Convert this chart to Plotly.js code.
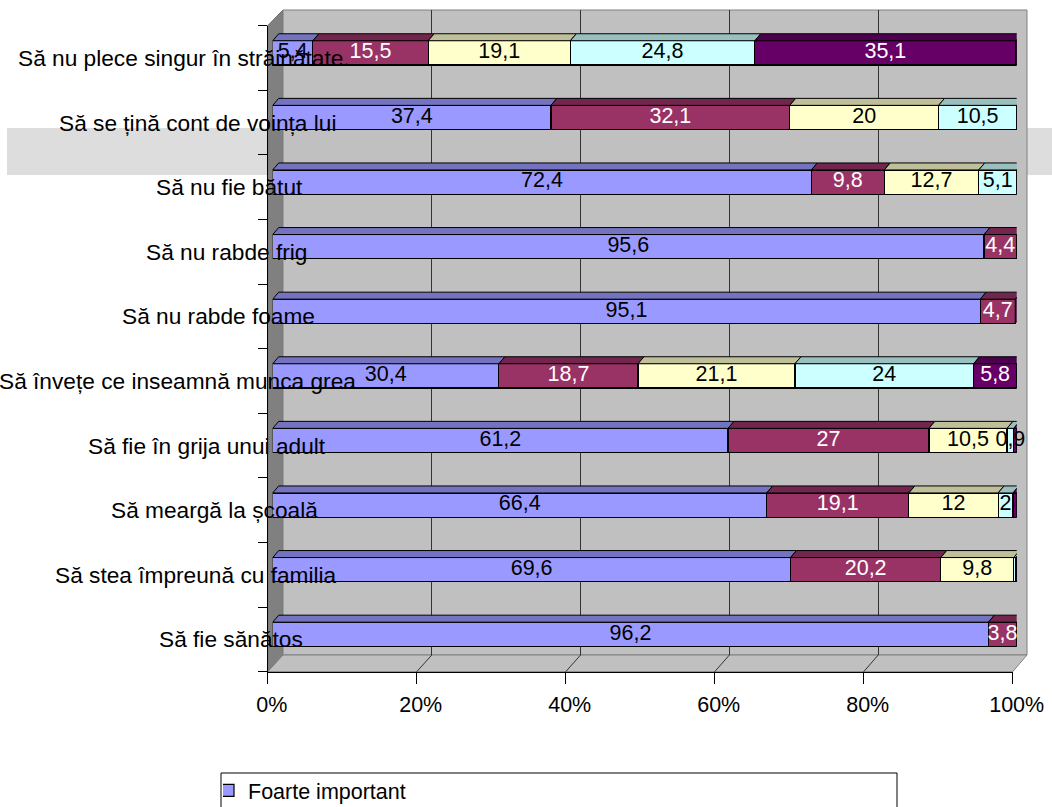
<!DOCTYPE html>
<html>
<head>
<meta charset="utf-8">
<script src="https://cdn.plot.ly/plotly-3.0.1.min.js"></script>
<style>
html,body{margin:0;padding:0;background:#ffffff;}
#chart{width:1052px;height:807px;}
</style>
</head>
<body>
<div id="chart"></div>
<script>
// ---------------- data ----------------
const categories = [
  "Să nu plece singur în străinătate.",
  "Să se țină cont de voința lui",
  "Să nu fie bătut",
  "Să nu rabde frig",
  "Să nu rabde foame",
  "Să învețe ce inseamnă munca grea",
  "Să fie în grija unui adult",
  "Să meargă la școală",
  "Să stea împreună cu familia",
  "Să fie sănătos"
];
const seriesNames = ["Foarte important", "Important", "Puțin important", "Deloc important", "Nu știu / Nu răspund"];
const foarteImportant = [5.4, 37.4, 72.4, 95.6, 95.1, 30.4, 61.2, 66.4, 69.6, 96.2];
const important       = [15.5, 32.1, 9.8, 4.4, 4.7, 18.7, 27, 19.1, 20.2, 3.8];
const putinImportant  = [19.1, 20, 12.7, 0, 0, 21.1, 10.5, 12, 9.8, 0];
const delocImportant  = [24.8, 10.5, 5.1, 0, 0, 24, 0.9, 2, 0.3, 0];
const nuStiu          = [35.1, 0, 0, 0, 0, 5.8, 0.4, 0.5, 0.1, 0];
const xTickValues = [0, 20, 40, 60, 80, 100];

// ---------------- styles / layout constants ----------------
const W = 1052, H = 807;
const FONT = 'Arial, "Liberation Sans", sans-serif';
const frontColors = ["#9999ff", "#993366", "#ffffcc", "#ccffff", "#660066"];
const topColors   = ["#7373bf", "#73264d", "#bfbf99", "#99bfbf", "#4d004d"];
const sideColor   = "#330033";
const labelColors = ["#000000", "#ffffff", "#000000", "#000000", "#ffffff"];
const FRONT = {x0: 267.7, x1: 1012.7, y0: 25.7, y1: 671.7};   // front plane (axes)
const BACK  = {x0: 283,   x1: 1027,   y0: 10,   y1: 655};     // back wall
const BARP  = {x0: 272.7, x1: 1016.7, y0: 20.6, y1: 666.6};   // bar front faces plane
const BARW = 0.376;
const DEPTH_X = 6, DEPTH_Y = 7;  // pixel depth of bar top faces
const MIN_LABEL = 0.8;
const CAT_FONT = 22.7;

const fx = px => px / W;
const fy = py => 1 - py / H;

const series = [foarteImportant, important, putinImportant, delocImportant, nuStiu];
const n = categories.length;
const idx = categories.map((_, i) => i);
const DX = DEPTH_X / ((BARP.x1 - BARP.x0) / 100);
const DY = DEPTH_Y / ((BARP.y1 - BARP.y0) / n);
const fmt = v => String(v).replace('.', ',');

const traces = [];
// empty trace to create the back-wall grid subplot
traces.push({type: 'scatter', x: [], y: [], xaxis: 'x', yaxis: 'y', showlegend: false, hoverinfo: 'skip'});
// empty trace for the front axes subplot
traces.push({type: 'scatter', x: [], y: [], xaxis: 'x2', yaxis: 'y2', showlegend: false, hoverinfo: 'skip'});

const cum = new Array(n).fill(0);
const textTraces = [];
series.forEach((vals, s) => {
  const base = cum.slice();
  traces.push({
    type: 'bar', orientation: 'h', name: seriesNames[s],
    showlegend: s === 0,   // only the first legend entry is visible in the (cropped) original
    x: vals, y: idx, width: BARW,
    xaxis: 'x3', yaxis: 'y3',
    marker: {color: frontColors[s], line: {color: '#000000', width: 1.2}},
    hoverinfo: 'x+name'
  });
  // top faces
  const px = [], py = [];
  vals.forEach((v, i) => {
    if (v <= 0) return;
    const x0 = base[i], x1 = base[i] + v, yt = i - BARW / 2;
    px.push(x0, x1, x1 + DX, x0 + DX, x0, null);
    py.push(yt, yt, yt - DY, yt - DY, yt, null);
  });
  traces.push({
    type: 'scatter', mode: 'lines', x: px, y: py, fill: 'toself',
    fillcolor: topColors[s], line: {color: '#000000', width: 1},
    xaxis: 'x3', yaxis: 'y3', showlegend: false, hoverinfo: 'skip'
  });
  // labels
  const tx = [], ty = [], tt = [];
  vals.forEach((v, i) => {
    if (v >= MIN_LABEL) { tx.push(base[i] + v / 2); ty.push(i); tt.push(fmt(v)); }
  });
  textTraces.push({
    type: 'scatter', mode: 'text', x: tx, y: ty, text: tt,
    textposition: 'middle center', cliponaxis: false,
    textfont: {family: FONT, size: 21.5, color: labelColors[s]},
    xaxis: 'x3', yaxis: 'y3', showlegend: false, hoverinfo: 'skip'
  });
  vals.forEach((v, i) => { cum[i] += v; });
});
// right side faces
const sx = [], sy = [];
cum.forEach((t, i) => {
  const yt = i - BARW / 2, yb = i + BARW / 2;
  sx.push(t, t, t + DX, t + DX, t, null);
  sy.push(yb, yt, yt - DY, yb - DY, yb, null);
});
traces.push({
  type: 'scatter', mode: 'lines', x: sx, y: sy, fill: 'toself',
  fillcolor: sideColor, line: {color: '#000000', width: 1},
  xaxis: 'x3', yaxis: 'y3', showlegend: false, hoverinfo: 'skip'
});
textTraces.forEach(t => traces.push(t));

// ---------------- shapes (walls / floor / legend frame) ----------------
const backX = v => BACK.x0 + (BACK.x1 - BACK.x0) * v / 100;
const frontX = v => FRONT.x0 + (FRONT.x1 - FRONT.x0) * v / 100;
const P = (x, y) => fx(x) + ',' + fy(y);
const shapes = [
  {type: 'rect', xref: 'paper', yref: 'paper', layer: 'below',
   x0: fx(7), x1: 1, y0: fy(175), y1: fy(128), fillcolor: '#dddddd', line: {width: 0}},
  {type: 'path', xref: 'paper', yref: 'paper', layer: 'below',
   path: 'M' + P(FRONT.x0, FRONT.y0) + 'L' + P(BACK.x0, BACK.y0) + 'L' + P(BACK.x0, BACK.y1) + 'L' + P(FRONT.x0, FRONT.y1) + 'Z',
   fillcolor: '#808080', line: {color: '#6a6a6a', width: 1}},
  {type: 'rect', xref: 'paper', yref: 'paper', layer: 'below',
   x0: fx(BACK.x0), x1: fx(BACK.x1), y0: fy(BACK.y1), y1: fy(BACK.y0),
   fillcolor: '#c0c0c0', line: {color: '#808080', width: 1}},
  {type: 'path', xref: 'paper', yref: 'paper', layer: 'below',
   path: 'M' + P(FRONT.x0, FRONT.y1) + 'L' + P(BACK.x0, BACK.y1) + 'L' + P(BACK.x1, BACK.y1) + 'L' + P(FRONT.x1, FRONT.y1) + 'Z',
   fillcolor: '#c0c0c0', line: {color: '#808080', width: 1}},
  // legend frame (continues below the picture edge, as in the original)
  {type: 'rect', xref: 'paper', yref: 'paper', layer: 'above',
   x0: fx(221), x1: fx(897), y0: fy(840), y1: fy(773),
   fillcolor: 'rgba(0,0,0,0)', line: {color: '#000000', width: 1}}
];
xTickValues.forEach(v => {
  if (v === 0 || v === 100) return;
  shapes.push({type: 'line', xref: 'paper', yref: 'paper', layer: 'below',
    x0: fx(backX(v)), y0: fy(BACK.y1), x1: fx(frontX(v)), y1: fy(FRONT.y1),
    line: {color: '#333333', width: 1}});
});

// ---------------- category labels ----------------
const ctx = document.createElement('canvas').getContext('2d');
ctx.font = CAT_FONT + 'px ' + FONT;
const annotations = categories.map((c, i) => {
  const w = ctx.measureText(c).width;
  return {
    xref: 'paper', yref: 'y2', x: fx(FRONT.x0 + w / 4), y: i,
    xanchor: 'right', yanchor: 'middle', text: c, showarrow: false,
    borderpad: 0, font: {family: FONT, size: CAT_FONT, color: '#000000'}
  };
});

const layout = {
  width: W, height: H,
  margin: {l: 0, r: 0, t: 0, b: 0, pad: 0, autoexpand: false},
  paper_bgcolor: '#ffffff', plot_bgcolor: 'rgba(0,0,0,0)',
  barmode: 'stack', bargap: 0,
  showlegend: true,
  font: {family: FONT, size: 21, color: '#000000'},
  xaxis: {domain: [fx(BACK.x0), fx(BACK.x1)], range: [0, 100], anchor: 'y',
          tickvals: xTickValues, showgrid: true, gridcolor: '#333333', gridwidth: 1,
          showticklabels: false, ticks: '', zeroline: false, showline: false, fixedrange: true},
  yaxis: {domain: [fy(BACK.y1), fy(BACK.y0)], range: [0, 1], anchor: 'x',
          showgrid: false, showticklabels: false, ticks: '', zeroline: false, showline: false, fixedrange: true},
  xaxis2: {domain: [fx(FRONT.x0), fx(FRONT.x1)], range: [0, 100], anchor: 'y2',
           tickvals: xTickValues, ticktext: xTickValues.map(v => v + '%'),
           showgrid: false, zeroline: false, showline: true, linecolor: '#000000', linewidth: 1,
           ticks: 'outside', ticklen: 11, tickcolor: '#000000', tickwidth: 1,
           ticklabelshift: 4, ticklabelstandoff: 2,
           tickfont: {family: FONT, size: 21.5, color: '#000000'}, fixedrange: true},
  yaxis2: {domain: [fy(FRONT.y1), fy(FRONT.y0)], range: [n - 0.5, -0.5], anchor: 'x2',
           tickvals: categories.map((_, i) => i - 0.5).concat([n - 0.5]),
           showticklabels: false, showgrid: false, zeroline: false,
           showline: true, linecolor: '#000000', linewidth: 1,
           ticks: 'outside', ticklen: 9, tickcolor: '#000000', tickwidth: 1, fixedrange: true},
  xaxis3: {domain: [fx(BARP.x0), fx(BARP.x1)], range: [0, 100], anchor: 'y3',
           visible: false, fixedrange: true},
  yaxis3: {domain: [fy(BARP.y1), fy(BARP.y0)], range: [n - 0.5, -0.5], anchor: 'x3',
           visible: false, fixedrange: true},
  legend: {orientation: 'h', x: fx(223), xanchor: 'left', y: fy(770), yanchor: 'top',
           bgcolor: 'rgba(0,0,0,0)', borderwidth: 0,
           font: {family: FONT, size: 21.5, color: '#000000'},
           indentation: -15, traceorder: 'normal', itemwidth: 30},
  shapes: shapes,
  annotations: annotations
};

Plotly.newPlot('chart', traces, layout, {displayModeBar: false, staticPlot: true});
</script>
</body>
</html>
